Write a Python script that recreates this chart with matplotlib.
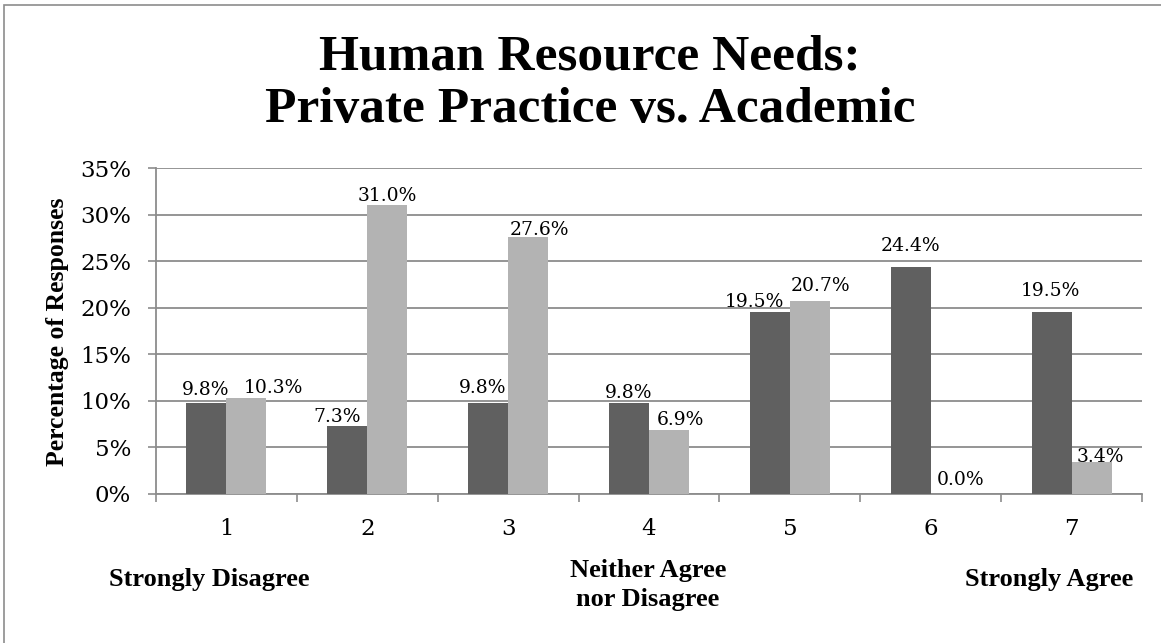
import numpy as np
import matplotlib.pyplot as plt
from matplotlib.patches import Rectangle

categories = ['1', '2', '3', '4', '5', '6', '7']
private_practice = [9.8, 7.3, 9.8, 9.8, 19.5, 24.4, 19.5]
academic = [10.3, 31.0, 27.6, 6.9, 20.7, 0.0, 3.4]
y_ticks = [0, 5, 10, 15, 20, 25, 30, 35]

# label nudges in pixels (dx from bar centre, gap above bar top), as placed in the original
dark_dx = [-1, -10, -6, 0, -15, 0, -1]
dark_gap = [8, 4, 10, 5, 5, 16, 16]
light_dx = [27, 0, 11, 11, 11, 10, 9]
light_gap = [5, 4, 2, 5, 10, 9, 0]

W, H = 1161, 643
fig = plt.figure(figsize=(W / 100, H / 100), dpi=100)

# outer frame (only left and top edges visible in the reference)
fig.add_artist(Rectangle((4 / W, -0.1), 2.0, 1 - 5 / H + 0.1, transform=fig.transFigure,
                         fill=False, edgecolor='#8c8c8c', linewidth=1.2))

ax = fig.add_axes([156 / W, 1 - 494 / H, (1142 - 156) / W, (494 - 168) / H])

x = np.arange(len(categories))
w = 0.284
dark = '#606060'
light = '#b3b3b3'
b1 = ax.bar(x - w / 2, private_practice, w, color=dark, zorder=3)
b2 = ax.bar(x + w / 2, academic, w, color=light, zorder=3)

px = 0.72  # points per pixel at dpi 100
for bars, vals, dxs, gaps in ((b1, private_practice, dark_dx, dark_gap),
                              (b2, academic, light_dx, light_gap)):
    for b, v, dx, g in zip(bars, vals, dxs, gaps):
        ax.annotate(f'{v:.1f}%', (b.get_x() + b.get_width() / 2, v), xytext=(dx * px, g * px),
                    textcoords='offset points', ha='center', va='baseline',
                    fontsize=13.5, family='DejaVu Serif', color='black', zorder=4)

ax.set_xlim(-0.5, len(categories) - 0.5)
ax.set_ylim(0, 35)
ax.set_yticks(y_ticks)
ax.set_yticklabels([f'{t}%' for t in y_ticks], family='DejaVu Serif', fontsize=16.5)
ax.set_xticks(x)
ax.set_xticklabels(categories, family='DejaVu Serif', fontsize=16.5)
ax.set_xticks(np.arange(len(categories) + 1) - 0.5, minor=True)
ax.tick_params(axis='x', which='major', length=0, pad=17.5)
ax.tick_params(axis='x', which='minor', length=6, color='#8c8c8c', width=1.2)
ax.tick_params(axis='y', length=6, color='#8c8c8c', width=1.2, pad=12)

ax.grid(axis='y', color='#8c8c8c', linewidth=1.3, zorder=0)
for s in ('top', 'right'):
    ax.spines[s].set_visible(False)
for s in ('left', 'bottom'):
    ax.spines[s].set_color('#8c8c8c')
    ax.spines[s].set_linewidth(1.3)

bold = dict(family='Liberation Serif', weight='bold', color='black')
fig.text(590 / W, 1 - 70 / H, 'Human Resource Needs:', ha='center', va='baseline', fontsize=37, **bold)
fig.text(590 / W, 1 - 122 / H, 'Private Practice vs. Academic', ha='center', va='baseline', fontsize=37, **bold)

fig.text(58 / W, 1 - 332 / H, 'Percentage of Responses', rotation=90, ha='center', va='center',
         fontsize=18.5, **bold)

fig.text(209 / W, 1 - 586 / H, 'Strongly Disagree', ha='center', va='baseline', fontsize=19, **bold)
fig.text(648 / W, 1 - 577 / H, 'Neither Agree', ha='center', va='baseline', fontsize=19, **bold)
fig.text(648 / W, 1 - 606 / H, 'nor Disagree', ha='center', va='baseline', fontsize=19, **bold)
fig.text(1049 / W, 1 - 586 / H, 'Strongly Agree', ha='center', va='baseline', fontsize=19, **bold)

fig.savefig('out.png', dpi=100, facecolor='white')
